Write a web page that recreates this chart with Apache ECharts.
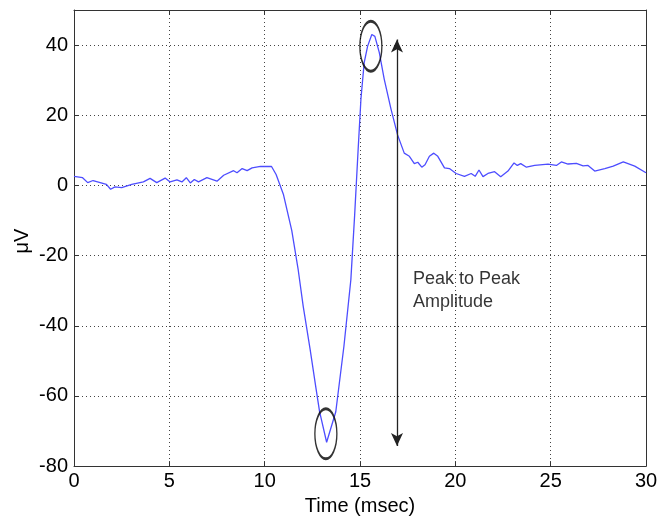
<!DOCTYPE html>
<html><head><meta charset="utf-8">
<script src="https://cdn.jsdelivr.net/npm/echarts@6/dist/echarts.min.js"></script>
<style>html,body{margin:0;padding:0;background:#fff}#c{width:671px;height:521px}</style>
</head><body><div id="c"></div>
<script>
const timeMs = [0,0.45,0.72,1.0,1.7,1.92,2.15,2.5,3.03,3.64,3.99,4.34,4.78,5.04,5.4,5.66,5.89,6.1,6.31,6.53,6.97,7.5,7.85,8.37,8.55,8.82,9.08,9.34,9.78,10.36,10.6,10.98,11.42,11.76,12.02,12.38,12.69,12.88,13.25,13.73,14.16,14.52,14.72,14.9,15.05,15.22,15.4,15.62,15.78,16.01,16.27,16.62,16.97,17.32,17.59,17.85,18.03,18.24,18.41,18.64,18.87,19.08,19.43,19.69,20.04,20.48,20.83,21.04,21.24,21.45,21.71,22.06,22.38,22.76,23.08,23.25,23.43,23.73,24.16,24.86,25.3,25.56,25.91,26.35,26.7,26.96,27.31,27.84,28.28,28.81,29.41,30];
const amplitude = [2.6,2.2,0.8,1.4,0.3,-1.1,-0.4,-0.6,0.3,1.0,2.0,0.8,2.1,1.0,1.6,1.0,2.2,0.7,1.7,1.0,2.2,1.2,2.9,4.2,3.6,4.8,4.2,5.0,5.4,5.4,3.1,-2.5,-12.8,-24.1,-34.4,-46.6,-57.8,-64.5,-73.2,-64.5,-45.7,-26.9,-8.4,10.0,24.7,35.0,39.7,43.0,42.5,37.9,30.3,21.9,14.4,9.2,8.3,6.2,6.6,5.2,5.9,8.3,9.2,8.3,5.0,4.8,3.4,2.6,3.4,2.6,4.4,2.5,3.4,3.9,2.5,4.1,6.4,5.7,6.2,5.2,5.7,6.1,5.7,6.7,6.1,6.3,5.6,5.7,4.1,4.8,5.5,6.7,5.5,3.6];
const peakMarks = [[15.57, 39.7], [13.21, -70.8]];
const arrowX = 16.94, arrowTop = 41.6, arrowBottom = -74.3;
const noteText = 'Peak to Peak\nAmplitude';
const notePos = [17.78, -29.9];
const xLabel = 'Time (msec)', yLabel = 'μV';

const FONT = 'Arial, "Liberation Sans", sans-serif';
const chart = echarts.init(document.getElementById('c'), null, {renderer: 'canvas'});
const aLine = {show: true, onZero: false, lineStyle: {color: '#333', width: 1}};
const aTick = {show: true, inside: true, length: 5, lineStyle: {color: '#333'}};
const grid = {show: true, lineStyle: {type: [1, 3], color: '#444', width: 1}};
chart.setOption({
  animation: false,
  backgroundColor: '#fff',
  grid: {left: 74, right: 25, top: 10, bottom: 49},
  xAxis: [{
    type: 'value', min: 0, max: 30, interval: 5,
    axisLine: aLine, axisTick: aTick,
    axisLabel: {color: '#000', fontSize: 20, fontFamily: FONT, margin: 5},
    splitLine: grid,
    name: xLabel, nameLocation: 'middle', nameGap: 26,
    nameTextStyle: {color: '#000', fontSize: 20, fontFamily: FONT}
  }, {
    type: 'value', position: 'top', min: 0, max: 30, interval: 5,
    axisLine: aLine, axisTick: aTick,
    axisLabel: {show: false}, splitLine: {show: false}
  }],
  yAxis: [{
    type: 'value', min: -80, max: 50, interval: 20,
    axisLine: aLine, axisTick: aTick,
    axisLabel: {color: '#000', fontSize: 20, fontFamily: FONT, margin: 6, showMaxLabel: false,
      formatter: v => v === 50 ? '' : String(v)},
    splitLine: grid
  }, {
    type: 'value', position: 'right', min: -80, max: 50, interval: 20,
    axisLine: aLine, axisTick: aTick,
    axisLabel: {show: false}, splitLine: {show: false}
  }],
  graphic: [{
    type: 'text', x: 22, y: 241, rotation: Math.PI / 2,
    style: {text: yLabel, fill: '#000', font: '20px ' + FONT, align: 'center', verticalAlign: 'middle'}
  }],
  series: [{
    type: 'line', data: timeMs.map((t, i) => [t, amplitude[i]]),
    showSymbol: false, symbol: 'none',
    lineStyle: {color: '#4d4dff', width: 1.3},
    markLine: {
      silent: true, symbol: ['arrow', 'arrow'], symbolSize: [9, 13],
      label: {show: false},
      lineStyle: {color: '#222', width: 1.3, type: 'solid'},
      data: [[{coord: [arrowX, arrowTop]}, {coord: [arrowX, arrowBottom]}]]
    }
  }, {
    type: 'scatter', data: peakMarks, symbol: 'circle', symbolSize: [22, 50],
    itemStyle: {color: 'rgba(0,0,0,0)', borderColor: '#000', borderWidth: 2}, z: 5
  }, {
    type: 'scatter', data: [notePos], symbolSize: 0,
    label: {show: true, position: 'right', distance: 0, formatter: noteText,
      color: '#000', fontSize: 18, fontFamily: FONT, lineHeight: 23, align: 'left'}
  }]
});
</script></body></html>
